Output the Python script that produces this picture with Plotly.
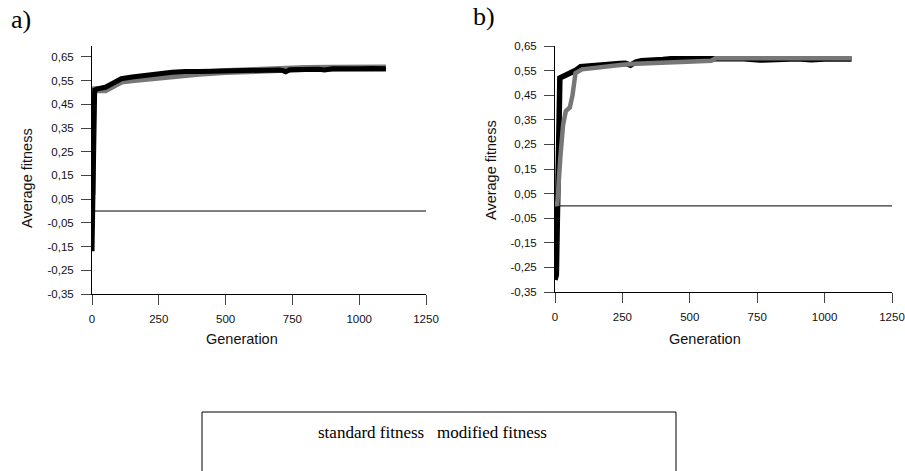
import plotly.graph_objects as go

# ---- data ----
a_std_x = [0, 3, 10, 20, 50, 80, 110, 150, 200, 230, 250, 300, 350, 380, 400, 450, 500, 540, 550, 600, 620, 650, 700, 715, 725, 740, 800, 850, 870, 900, 950, 980, 1000, 1050, 1100]
a_std_y = [-0.17, 0.06, 0.51, 0.515, 0.522, 0.54, 0.558, 0.565, 0.572, 0.578, 0.58, 0.585, 0.588, 0.586, 0.588, 0.59, 0.592, 0.589, 0.594, 0.596, 0.593, 0.597, 0.595, 0.592, 0.587, 0.596, 0.598, 0.598, 0.595, 0.6, 0.6, 0.597, 0.6, 0.601, 0.6]
a_mod_x = [0, 3, 10, 50, 80, 110, 150, 200, 250, 300, 350, 400, 500, 600, 700, 800, 900, 1000, 1100]
a_mod_y = [0.07, 0.5, 0.512, 0.512, 0.53, 0.548, 0.554, 0.56, 0.566, 0.576, 0.579, 0.581, 0.588, 0.594, 0.598, 0.601, 0.602, 0.603, 0.603]

b_std_x = [0, 5, 18, 50, 75, 95, 150, 200, 240, 260, 280, 300, 320, 400, 430, 500, 600, 650, 700, 760, 800, 900, 950, 1000, 1100]
b_std_y = [-0.30, -0.28, 0.52, 0.535, 0.55, 0.566, 0.573, 0.577, 0.579, 0.58, 0.572, 0.585, 0.59, 0.595, 0.598, 0.598, 0.6, 0.597, 0.598, 0.593, 0.596, 0.598, 0.594, 0.597, 0.597]
b_mod_x = [0, 8, 20, 30, 40, 55, 65, 76, 100, 150, 200, 250, 300, 400, 500, 580, 595, 700, 800, 900, 1000, 1100]
b_mod_y = [0.02, 0.0, 0.2, 0.33, 0.385, 0.40, 0.45, 0.54, 0.555, 0.562, 0.568, 0.574, 0.578, 0.582, 0.586, 0.59, 0.6, 0.6, 0.6, 0.601, 0.601, 0.6]

zero_x = [0, 1250]
zero_y = [0, 0]

y_ticks = [-0.35, -0.25, -0.15, -0.05, 0.05, 0.15, 0.25, 0.35, 0.45, 0.55, 0.65]
y_tick_text = ["-0,35", "-0,25", "-0,15", "-0,05", "0,05", "0,15", "0,25", "0,35", "0,45", "0,55", "0,65"]
x_ticks = [0, 250, 500, 750, 1000, 1250]
x_tick_text = ["0", "250", "500", "750", "1000", "1250"]

BLACK = "#000000"
GRAY = "#777777"
W, H = 905, 471

fig = go.Figure()

def zero(xa, ya):
    fig.add_trace(go.Scatter(x=zero_x, y=zero_y, mode="lines", line=dict(color="#000", width=1),
                             xaxis=xa, yaxis=ya, showlegend=False, hoverinfo="skip"))

# panel a
zero("x", "y")
fig.add_trace(go.Scatter(x=a_mod_x, y=a_mod_y, mode="lines", line=dict(color=GRAY, width=7),
                         name="modified fitness", xaxis="x", yaxis="y", showlegend=False))
fig.add_trace(go.Scatter(x=a_std_x, y=a_std_y, mode="lines", line=dict(color=BLACK, width=5),
                         name="standard fitness", xaxis="x", yaxis="y", showlegend=False))
# panel b
zero("x2", "y2")
fig.add_trace(go.Scatter(x=b_std_x, y=b_std_y, mode="lines", line=dict(color=BLACK, width=5.5),
                         name="standard fitness", xaxis="x2", yaxis="y2", showlegend=False))
fig.add_trace(go.Scatter(x=b_mod_x, y=b_mod_y, mode="lines", line=dict(color=GRAY, width=4.5),
                         name="modified fitness", xaxis="x2", yaxis="y2", showlegend=False))

tickfont = dict(family="Liberation Sans, Arial", size=11.5, color="#111")
common_x = dict(range=[0, 1250], tickvals=x_ticks, ticktext=x_tick_text, showline=True,
                linecolor="black", linewidth=1, ticks="outside", ticklen=10, tickcolor="#444",
                showgrid=False, zeroline=False, tickfont=tickfont, ticklabelstandoff=4,
                automargin=False)
common_y = dict(tickvals=y_ticks, ticktext=y_tick_text, showline=True, linecolor="black",
                linewidth=1, ticks="outside", ticklen=10, tickcolor="#444", showgrid=False,
                zeroline=False, tickfont=tickfont, ticklabelstandoff=5, automargin=False)

fig.update_layout(
    template="none",
    width=W, height=H, margin=dict(l=0, r=0, t=0, b=0, pad=0), autosize=False,
    paper_bgcolor="white", plot_bgcolor="white",
    xaxis=dict(domain=[92 / W, 426 / W], anchor="y", **common_x),
    yaxis=dict(domain=[1 - 294 / H, 1 - 46 / H], range=[-0.35, 0.696], anchor="x", **common_y),
    xaxis2=dict(domain=[555 / W, 892 / W], anchor="y2", **common_x),
    yaxis2=dict(domain=[1 - 292 / H, 1 - 46 / H], range=[-0.35, 0.65], anchor="x2", **common_y),
)

titlefont = dict(family="Liberation Sans, Arial", size=14.5, color="#111")
serif = dict(family="Liberation Serif, Times New Roman", color="black")
ann = [
    dict(text="Average fitness", x=27 / W, y=1 - 178 / H, textangle=-90, font=titlefont),
    dict(text="Average fitness", x=491 / W, y=1 - 170 / H, textangle=-90, font=titlefont),
    dict(text="Generation", x=242 / W, y=1 - 339 / H, font=titlefont),
    dict(text="Generation", x=705 / W, y=1 - 339 / H, font=titlefont),
    dict(text="a)", x=21 / W, y=1 - 20 / H, font=dict(size=26, **serif)),
    dict(text="b)", x=484 / W, y=1 - 17 / H, font=dict(size=26, **serif)),
    dict(text="standard fitness\u00a0\u00a0\u00a0modified fitness", x=432 / W, y=1 - 432 / H,
         font=dict(size=17, **serif)),
]
for a in ann:
    fig.add_annotation(xref="paper", yref="paper", showarrow=False, xanchor="center", yanchor="middle", **a)

fig.add_shape(type="rect", xref="paper", yref="paper", x0=202 / W, x1=676 / W, y0=-0.05, y1=1 - 412 / H,
              line=dict(color="black", width=1), fillcolor="rgba(0,0,0,0)")

fig.write_html(
    "out.html",
    config={"displayModeBar": False, "responsive": False},
    post_script=("document.documentElement.style.margin='0';document.documentElement.style.padding='0';"
                 "document.documentElement.style.overflow='hidden';"
                 "document.body.style.margin='0';document.body.style.padding='0';document.body.style.overflow='hidden';"),
)
